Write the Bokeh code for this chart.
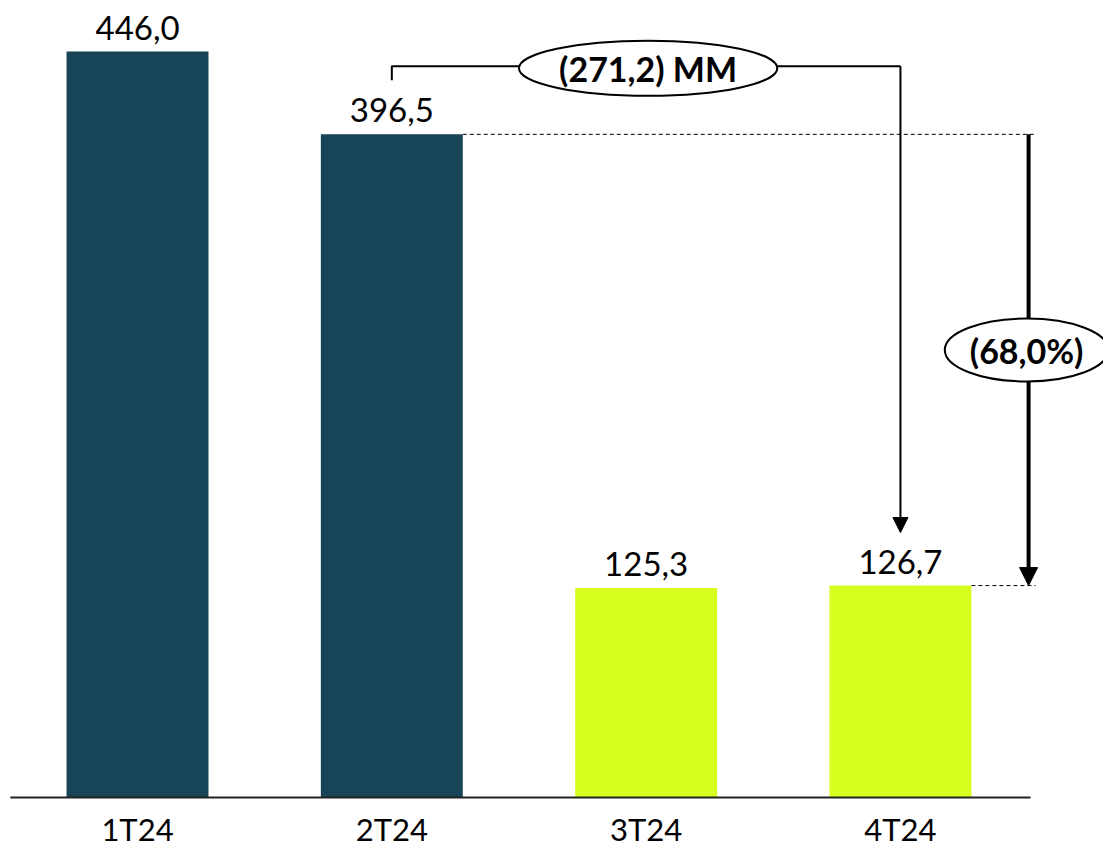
from bokeh.plotting import figure
from bokeh.models import Range1d, Arrow, NormalHead
from bokeh.core.properties import value
from bokeh.embed import file_html
from bokeh.resources import INLINE

# ---- data ----
categories = ["1T24", "2T24", "3T24", "4T24"]
values = [446.0, 396.5, 125.3, 126.7]
bar_colors = ["#174456", "#174456", "#d6ff1f", "#d6ff1f"]
delta_mm_label = "(271,2) MM"
delta_pct_label = "(68,0%)"

FONT = "Lato"

def fmt(v):
    return f"{v:.1f}".replace(".", ",")

W, H = 1103, 848
REF_W, REF_H = 1119, 864
PX_PER_CAT = 258.0     # reference pixels per category
PX_PER_UNIT = 1.704    # reference pixels per value unit
X0_REF = 139.0         # reference x of first category centre
BASE_REF = 812.0       # reference y of baseline

def dx(px):
    return px / PX_PER_CAT

def dy(px):
    return px / PX_PER_UNIT

xs = list(range(len(categories)))
x_start = (0 - X0_REF) / PX_PER_CAT
x_end = (REF_W - X0_REF) / PX_PER_CAT
y_end = BASE_REF / PX_PER_UNIT
y_start = (BASE_REF - REF_H) / PX_PER_UNIT

p = figure(width=W, height=H, output_backend="svg", toolbar_location=None,
           x_range=Range1d(x_start, x_end), y_range=Range1d(y_start, y_end),
           min_border=0)
p.xaxis.visible = False
p.yaxis.visible = False
p.grid.visible = False
p.outline_line_color = None
p.background_fill_color = "white"
p.border_fill_color = "white"

bar_w = dx(144)
p.vbar(x=xs, top=values, width=bar_w, bottom=0, fill_color=bar_colors, line_color=None)

# baseline
p.segment(x0=[xs[0] - 0.5], y0=[0], x1=[xs[-1] + dx(132)], y1=[0], line_color="#222222", line_width=2)

# value labels
p.text(x=xs, y=values, text=[fmt(v) for v in values], text_font=value(FONT),
       text_font_size="33px", text_align="center", text_baseline="middle",
       y_offset=-24, text_color="black")

# category labels
p.text(x=xs, y=[dy(-32)] * len(xs), text=categories, text_font=value(FONT),
       text_font_size="31px", text_align="center", text_baseline="middle", text_color="black")

# dashed reference lines
i2, i4 = 1, 3
right_x = i4 + dx(137)
p.segment(x0=[i2 + bar_w / 2, i4 + bar_w / 2], y0=[values[i2], values[i4]],
          x1=[right_x, right_x], y1=[values[i2], values[i4]],
          line_color="black", line_width=1, line_dash="4 3")

# bracket from 2T24 to 4T24
bracket_y = values[0] - dy(15)
p.line(x=[i2, i2, i4], y=[values[i2] + dy(55), bracket_y, bracket_y], line_color="black", line_width=2)
p.add_layout(Arrow(end=NormalHead(size=15, fill_color="black", line_color="black"),
                   x_start=i4, y_start=bracket_y, x_end=i4, y_end=values[i4] + dy(54),
                   line_color="black", line_width=2))
e1 = p.ellipse(x=[(i2 + i4) / 2 + dx(2)], y=[bracket_y - dy(2)], width=[dx(262)], height=[dy(56)],
               fill_color="white", line_color="black", line_width=2)
t1 = p.text(x=[(i2 + i4) / 2 + dx(2)], y=[bracket_y - dy(2)], text=[delta_mm_label], text_font=value(FONT),
            text_font_style="bold", text_font_size="34px", text_align="center",
            text_baseline="middle", text_color="black")

# thick vertical arrow (% change)
ax = i4 + dx(130)
p.add_layout(Arrow(end=NormalHead(size=18, fill_color="black", line_color="black"),
                   x_start=ax, y_start=values[i2], x_end=ax, y_end=values[i4],
                   line_color="black", line_width=4))
mid_y = values[i4] + dy(240)
e2 = p.ellipse(x=[ax - dx(2)], y=[mid_y], width=[dx(166)], height=[dy(64)],
               fill_color="white", line_color="black", line_width=2)
t2 = p.text(x=[ax - dx(2)], y=[mid_y], text=[delta_pct_label], text_font=value(FONT),
            text_font_style="bold", text_font_size="34px", text_align="center",
            text_baseline="middle", text_color="black")
for r in (e1, t1, e2, t2):
    r.level = "overlay"

open("out.html", "w").write(file_html(p, INLINE))
